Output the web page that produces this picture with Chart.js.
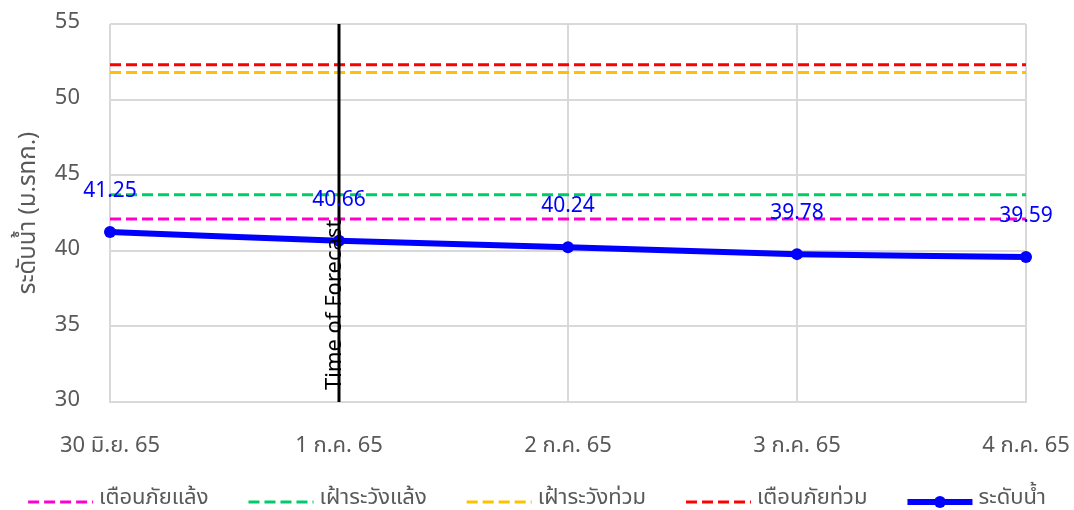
<!DOCTYPE html>
<html>
<head>
<meta charset="utf-8">
<script src="https://cdn.jsdelivr.net/npm/chart.js@4"></script>
<style>
  html,body{margin:0;padding:0;background:#fff}
  #wrap{width:1074px;height:510px}
</style>
</head>
<body>
<div id="wrap"><canvas id="c" width="1074" height="510"></canvas></div>
<script>
const FONT = "Tahoma, 'Noto Sans Thai', 'Noto Sans', 'DejaVu Sans', sans-serif";

const dates = ['30 มิ.ย. 65', '1 ก.ค. 65', '2 ก.ค. 65', '3 ก.ค. 65', '4 ก.ค. 65'];
const waterLevel = [41.25, 40.66, 40.24, 39.78, 39.59];
const droughtWarn = [42.1, 42.1, 42.1, 42.1, 42.1];
const droughtWatch = [43.7, 43.7, 43.7, 43.7, 43.7];
const floodWatch = [51.8, 51.8, 51.8, 51.8, 51.8];
const floodWarn = [52.3, 52.3, 52.3, 52.3, 52.3];
const yTicks = [30, 35, 40, 45, 50, 55];
const forecastIndex = 1;

function dashed(label, data, color){
  return {
    label, data,
    borderColor: color, backgroundColor: color,
    borderWidth: 3, borderDash: [11, 5],
    pointRadius: 0, fill: false, tension: 0
  };
}

// vertical "Time of Forecast" line, value labels, bottom legend
const extras = {
  id: 'extras',
  afterDatasetsDraw(chart){
    const {ctx, chartArea, scales} = chart;
    const x = scales.x.getPixelForValue(forecastIndex);
    ctx.save();
    ctx.strokeStyle = '#000'; ctx.lineWidth = 3;
    ctx.beginPath(); ctx.moveTo(x, chartArea.top); ctx.lineTo(x, chartArea.bottom); ctx.stroke();
    ctx.translate(x + 2, chartArea.bottom - 12);
    ctx.rotate(-Math.PI/2);
    ctx.fillStyle = '#000';
    ctx.font = '22px ' + FONT;
    ctx.textAlign = 'left'; ctx.textBaseline = 'alphabetic';
    ctx.fillText('Time of Forecast', 0, 0);
    ctx.restore();

    const meta = chart.getDatasetMeta(4);
    ctx.save();
    ctx.fillStyle = '#0000ff';
    ctx.font = '21px ' + FONT;
    ctx.textAlign = 'center'; ctx.textBaseline = 'middle';
    meta.data.forEach((p, i)=>{
      ctx.fillText(waterLevel[i].toFixed(2), p.x, p.y - 39);
    });
    ctx.restore();
  },
  afterDraw(chart){
    const ctx = chart.ctx;
    const ds = chart.data.datasets;
    const lineW = 65, gap = 6, sep = 40, y = 502;
    ctx.save();
    ctx.font = '22px ' + FONT;
    let total = 0;
    const widths = ds.map(d=>ctx.measureText(d.label).width);
    widths.forEach(w=>{ total += lineW + gap + w; });
    total += sep * (ds.length - 1);
    let x = (chart.width - total) / 2;
    ds.forEach((d, i)=>{
      ctx.strokeStyle = d.borderColor;
      ctx.lineWidth = d.borderWidth;
      ctx.setLineDash(d.borderDash || []);
      ctx.beginPath(); ctx.moveTo(x, y); ctx.lineTo(x + lineW, y); ctx.stroke();
      ctx.setLineDash([]);
      if(d.pointRadius){
        ctx.fillStyle = d.borderColor;
        ctx.beginPath(); ctx.arc(x + lineW/2, y, d.pointRadius, 0, Math.PI*2); ctx.fill();
      }
      x += lineW + gap;
      ctx.fillStyle = '#595959';
      ctx.textAlign = 'left'; ctx.textBaseline = 'middle';
      ctx.fillText(d.label, x, y - 2);
      x += widths[i] + sep;
    });
    ctx.restore();
  }
};

new Chart(document.getElementById('c'), {
  type: 'line',
  data: {
    labels: dates,
    datasets: [
      dashed('เตือนภัยแล้ง', droughtWarn, '#ff00cc'),
      dashed('เฝ้าระวังแล้ง', droughtWatch, '#00cc66'),
      dashed('เฝ้าระวังท่วม', floodWatch, '#ffc000'),
      dashed('เตือนภัยท่วม', floodWarn, '#ff0000'),
      {
        label: 'ระดับน้ำ', data: waterLevel,
        borderColor: '#0000ff', backgroundColor: '#0000ff',
        borderWidth: 6, pointRadius: 6, pointHoverRadius: 6,
        pointBackgroundColor: '#0000ff', pointBorderWidth: 0,
        tension: 0.3, fill: false
      }
    ]
  },
  options: {
    responsive: false,
    animation: false,
    events: [],
    layout: { padding: { left: 16, right: 6, top: 24, bottom: 48 } },
    scales: {
      x: {
        offset: false,
        afterFit(s){ s.height = 60; s.paddingLeft = 0; s.paddingRight = 48; },
        grid: { color: '#d9d9d9', lineWidth: 2, drawTicks: false },
        border: { color: '#d9d9d9', width: 2 },
        ticks: { color: '#595959', font: { family: FONT, size: 22 }, padding: 32, maxRotation: 0 }
      },
      y: {
        min: 30, max: 55,
        afterBuildTicks(axis){ axis.ticks = yTicks.map(v=>({value:v})); },
        afterFit(s){ s.width = 94; s.paddingTop = 12; s.paddingBottom = 0; },
        grid: { color: '#d9d9d9', lineWidth: 2, drawTicks: false },
        border: { display: false },
        ticks: { color: '#595959', font: { family: FONT, size: 22 }, padding: 30 },
        title: { display: true, text: 'ระดับน้ำ (ม.รทก.)', color: '#595959', font: { family: FONT, size: 24 }, padding: { top: 0, bottom: 2 } }
      }
    },
    plugins: {
      legend: { display: false },
      tooltip: { enabled: false }
    }
  },
  plugins: [extras]
});
</script>
</body>
</html>
